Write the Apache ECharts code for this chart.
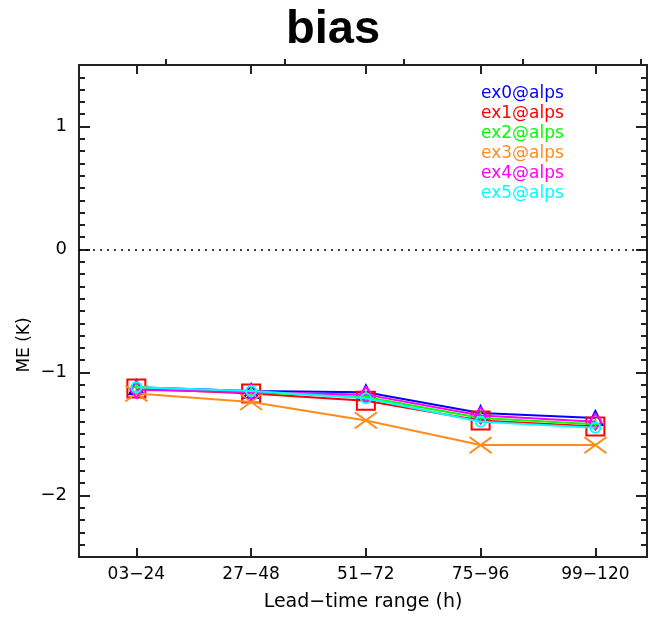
<!DOCTYPE html>
<html><head><meta charset="utf-8">
<script src="https://cdn.jsdelivr.net/npm/echarts@6/dist/echarts.min.js"></script>
<style>html,body{margin:0;padding:0;background:#fff}#c{width:648px;height:617px}</style>
</head><body><div id="c"></div>
<script>
var categories = ['03\u221224','27\u221248','51\u221272','75\u221296','99\u2212120'];
var xPositions = [1,2,3,4,5];
var yTickValues = [-2,-1,0,1];
var seriesNames = ['ex0@alps','ex1@alps','ex2@alps','ex3@alps','ex4@alps','ex5@alps'];
var ex0 = [-1.12,-1.15,-1.16,-1.33,-1.37];
var ex1 = [-1.13,-1.17,-1.23,-1.39,-1.44];
var ex2 = [-1.12,-1.16,-1.20,-1.37,-1.42];
var ex3 = [-1.17,-1.24,-1.39,-1.59,-1.59];
var ex4 = [-1.14,-1.16,-1.18,-1.35,-1.40];
var ex5 = [-1.12,-1.15,-1.21,-1.40,-1.45];
var seriesValues = [ex0,ex1,ex2,ex3,ex4,ex5];
var colors = ['#0000ff','#ff0000','#00ff00','#ff8c1a','#ff00ff','#00ffff'];
var symbols = [
  'triangle',
  'rect',
  'path://M5,0L5,10M0,5L10,5',
  'path://M0,0L10,8M10,0L0,8',
  'diamond',
  'circle'
];
var symbolSizes = [[14,14],[18,18],[12,12],[22,16],[12,16],[10,10]];

var chart = echarts.init(document.getElementById('c'));
var font = 'DejaVu Sans';
var axisColor = '#222';

var series = seriesValues.map(function(vals, i){
  var s = {
    name: seriesNames[i],
    type: 'line',
    xAxisIndex: 0, yAxisIndex: 0,
    data: vals.map(function(v, j){ return [xPositions[j], v]; }),
    symbol: symbols[i],
    symbolSize: symbolSizes[i],
    showAllSymbol: true,
    lineStyle: {color: colors[i], width: 2},
    itemStyle: {color: 'rgba(0,0,0,0)', borderColor: colors[i], borderWidth: 2},
    emphasis: {disabled: true},
    animation: false,
    z: 3 + i
  };
  if (i === 0) {
    s.markLine = {
      silent: true, symbol: ['none','none'], label: {show: false},
      lineStyle: {color: '#000', type: [2,5], width: 1.5},
      data: [{yAxis: 0}], animation: false
    };
  }
  return s;
});

var option = {
  animation: false,
  title: {
    text: 'bias', left: 281, top: 2,
    textStyle: {fontFamily: 'Liberation Sans', fontWeight: 'bold', fontSize: 47, color: '#000'}
  },
  legend: {
    orient: 'vertical', left: 471, top: 80, itemGap: 3,
    icon: 'none', itemWidth: 0, itemHeight: 17, selectedMode: false,
    textStyle: {fontFamily: font, fontSize: 17},
    data: seriesNames.map(function(n, i){ return {name: n, textStyle: {color: colors[i]}}; })
  },
  grid: {left: 79, top: 65, right: 1, bottom: 54, containLabel: false, show: false},
  xAxis: [
    {
      type: 'value', position: 'bottom', min: 0.5, max: 5.45,
      axisLine: {show: true, onZero: false, lineStyle: {color: axisColor, width: 2}},
      axisTick: {show: true, inside: true, length: 9, customValues: xPositions, lineStyle: {color: axisColor, width: 2}},
      axisLabel: {show: true, customValues: xPositions, margin: 9, color: '#000', fontFamily: font, fontSize: 17,
        formatter: function(v){ var k = Math.round(v) - 1; return categories[k] || ''; }},
      splitLine: {show: false},
      name: 'Lead\u2212time range (h)', nameLocation: 'middle', nameGap: 36,
      nameTextStyle: {fontFamily: font, fontSize: 19, color: '#000'}
    },
    {
      type: 'value', position: 'top', min: 0.5, max: 5.45,
      axisLine: {show: true, onZero: false, lineStyle: {color: axisColor, width: 2}},
      axisTick: {show: true, inside: true, length: 9, customValues: xPositions, lineStyle: {color: axisColor, width: 2}},
      axisLabel: {show: false}, splitLine: {show: false}
    },
    {
      type: 'value', position: 'top', min: -0.7326, max: 4.0505,
      axisLine: {show: false, onZero: false},
      axisTick: {show: true, inside: false, length: 6, customValues: [0,1,2,3,4], lineStyle: {color: axisColor, width: 2}},
      axisLabel: {show: false}, splitLine: {show: false}
    }
  ],
  yAxis: [
    {
      type: 'value', position: 'left', min: -2.5, max: 1.5,
      axisLine: {show: true, onZero: false, lineStyle: {color: axisColor, width: 2}},
      axisTick: {show: true, inside: true, length: 11, customValues: yTickValues, lineStyle: {color: axisColor, width: 2}},
      axisLabel: {show: true, customValues: yTickValues, margin: 12, color: '#000', fontFamily: font, fontSize: 18,
        formatter: function(v){ return v < 0 ? '\u2212' + Math.abs(v) : String(v); }},
      splitLine: {show: false}
    },
    {
      type: 'value', position: 'left', min: -2.5, max: 1.5, interval: 0.1,
      axisLine: {show: false, onZero: false},
      axisTick: {show: true, inside: true, length: 6, lineStyle: {color: axisColor, width: 2}},
      axisLabel: {show: false}, splitLine: {show: false}
    },
    {
      type: 'value', position: 'right', min: -2.5, max: 1.5,
      axisLine: {show: true, onZero: false, lineStyle: {color: axisColor, width: 2}},
      axisTick: {show: true, inside: true, length: 11, customValues: yTickValues, lineStyle: {color: axisColor, width: 2}},
      axisLabel: {show: false}, splitLine: {show: false}
    },
    {
      type: 'value', position: 'right', min: -2.5, max: 1.5, interval: 0.1,
      axisLine: {show: false, onZero: false},
      axisTick: {show: true, inside: true, length: 6, lineStyle: {color: axisColor, width: 2}},
      axisLabel: {show: false}, splitLine: {show: false}
    }
  ],
  graphic: [{
    type: 'text', x: 25, y: 345, rotation: Math.PI / 2,
    style: {text: 'ME (K)', fontFamily: font, fontSize: 17, fill: '#000', align: 'center', verticalAlign: 'middle'}
  }],
  series: series
};
chart.setOption(option);
</script></body></html>
